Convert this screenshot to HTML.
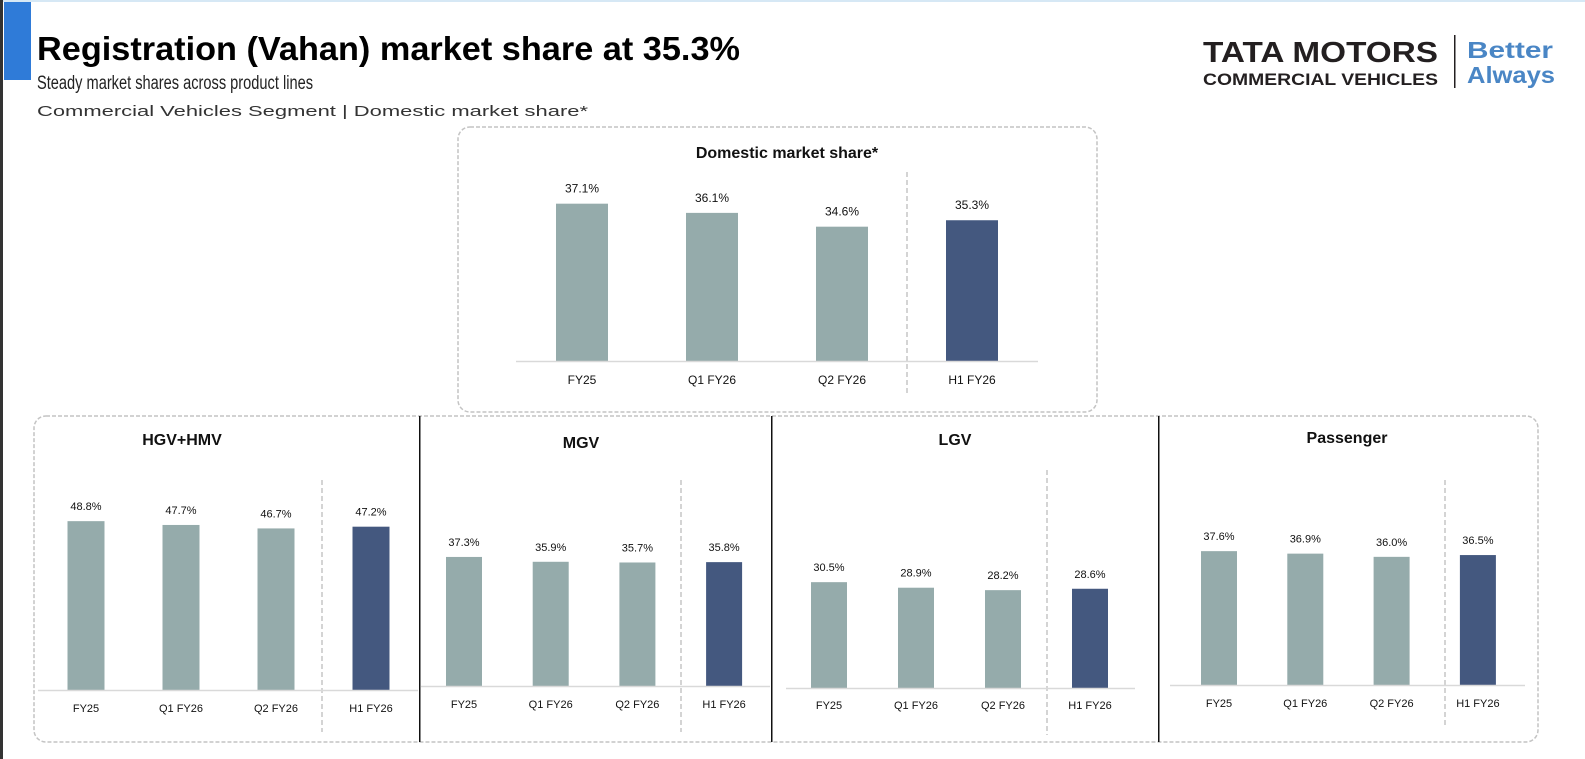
<!DOCTYPE html>
<html><head><meta charset="utf-8">
<style>
html,body{margin:0;padding:0;background:#fff;}
svg{display:block;font-family:"Liberation Sans",sans-serif;}
</style></head>
<body>
<svg id="s" width="1585" height="759" viewBox="0 0 1585 759">
<rect x="0" y="0" width="1585" height="2" fill="#d6e8f5"/>
<rect x="0" y="0" width="3" height="759" fill="#333"/>
<rect x="4" y="2" width="27" height="78" fill="#2f7bd8"/>
<rect x="31" y="20" width="720" height="55" fill="#fff"/>
<text x="37" y="60" font-size="33" font-weight="bold" textLength="703" lengthAdjust="spacingAndGlyphs">Registration (Vahan) market share at 35.3%</text>
<text x="37" y="89" font-size="19" fill="#222" textLength="276" lengthAdjust="spacingAndGlyphs">Steady market shares across product lines</text>
<text x="37" y="116" font-size="15" fill="#333" textLength="551" lengthAdjust="spacingAndGlyphs">Commercial Vehicles Segment | Domestic market share*</text>
<g>
<text x="1203" y="62" font-size="29" font-weight="bold" fill="#231f20" textLength="235" lengthAdjust="spacingAndGlyphs">TATA MOTORS</text>
<text x="1203" y="85" font-size="17" font-weight="bold" fill="#231f20" textLength="235" lengthAdjust="spacingAndGlyphs">COMMERCIAL VEHICLES</text>
<rect x="1454" y="35" width="1.5" height="53" fill="#231f20"/>
<text x="1467" y="58" font-size="23" font-weight="bold" fill="#4a86c5" textLength="86" lengthAdjust="spacingAndGlyphs">Better</text>
<text x="1467" y="83" font-size="23" font-weight="bold" fill="#4a86c5" textLength="88" lengthAdjust="spacingAndGlyphs">Always</text>
</g>
<rect x="458" y="127" width="639" height="285" rx="12" fill="none" stroke="#c4c4c4" stroke-width="1.5" stroke-dasharray="4,2"/>
<rect x="34" y="416" width="1504" height="326" rx="12" fill="none" stroke="#c4c4c4" stroke-width="1.5" stroke-dasharray="4,2"/>
<rect x="419" y="416" width="1.5" height="326" fill="#111"/>
<rect x="771" y="416" width="1.5" height="326" fill="#111"/>
<rect x="1158" y="416" width="1.5" height="326" fill="#111"/>
<g id="charts"></g>
</svg>
<script>
const categories = ["FY25","Q1 FY26","Q2 FY26","H1 FY26"];
const domesticValues = [37.1,36.1,34.6,35.3];
const hgvValues = [48.8,47.7,46.7,47.2];
const mgvValues = [37.3,35.9,35.7,35.8];
const lgvValues = [30.5,28.9,28.2,28.6];
const passengerValues = [37.6,36.9,36.0,36.5];

const NS="http://www.w3.org/2000/svg";
const root=document.getElementById('charts');
function mk(tag,attrs,parent){const e=document.createElementNS(NS,tag);for(const k in attrs)e.setAttribute(k,attrs[k]);parent.appendChild(e);return e;}
const panels=[
 {name:"domestic",title:"Domestic market share*",vals:domesticValues,tx:787,ty:158,x0:516,x1:1038,c0:582,step:130,bw:52,base:361,min:20,pp:9.2,sep:907,sy0:172,sy1:396,ly:384,fs:12,tfs:16},
 {name:"hgv-hmv",title:"HGV+HMV",vals:hgvValues,tx:182,ty:445,x0:38,x1:418,c0:86,step:95,bw:37,base:690,min:0,pp:3.46,sep:322,sy0:480,sy1:732,ly:712,fs:11,tfs:16},
 {name:"mgv",title:"MGV",vals:mgvValues,tx:581,ty:448,x0:421,x1:770,c0:464,step:86.7,bw:36,base:686,min:0,pp:3.46,sep:681,sy0:480,sy1:732,ly:708,fs:11,tfs:16},
 {name:"lgv",title:"LGV",vals:lgvValues,tx:955,ty:445,x0:786,x1:1135,c0:829,step:87,bw:36,base:688,min:0,pp:3.47,sep:1047,sy0:470,sy1:735,ly:709,fs:11,tfs:16},
 {name:"passenger",title:"Passenger",vals:passengerValues,tx:1347,ty:443,x0:1170,x1:1525,c0:1219,step:86.3,bw:36,base:685,min:0,pp:3.56,sep:1445,sy0:480,sy1:725,ly:707,fs:11,tfs:16}
];
panels.forEach(p=>{
 const g=mk('g',{},root);
 
 
 const y=v=>p.base-(v-p.min)*p.pp;
 const x=i=>p.c0+i*p.step;
 const t=mk('text',{x:p.tx,y:p.ty,'font-size':p.tfs,'font-weight':'bold','text-anchor':'middle',fill:'#111'},g);
 t.textContent=p.title;
 
 
 const sp=mk('line',{x1:p.sep,x2:p.sep,y1:p.sy0,y2:p.sy1,stroke:'#aaa','stroke-dasharray':'5,3'},g);
 
 
 p.vals.forEach((v,i)=>{
  const r=mk('rect',{x:x(i)-p.bw/2,y:y(v),width:p.bw,height:p.base-y(v),fill:i===3?'#44587f':'#95abab'},g);
  
  
  const vl=mk('text',{x:x(i),y:y(v)-11,'font-size':p.fs,'text-anchor':'middle',fill:'#111'},g);
  vl.textContent=v.toFixed(1)+'%';
  
  
  const cl=mk('text',{x:x(i),y:p.ly,'font-size':p.fs,'text-anchor':'middle',fill:'#111'},g);
  cl.textContent=categories[i];
  
  
 });
 const ax=mk('line',{x1:p.x0,x2:p.x1,y1:p.base+0.5,y2:p.base+0.5,stroke:'#d9d9d9','stroke-width':1.5},g);
 
 
});
</script>
</body></html>
